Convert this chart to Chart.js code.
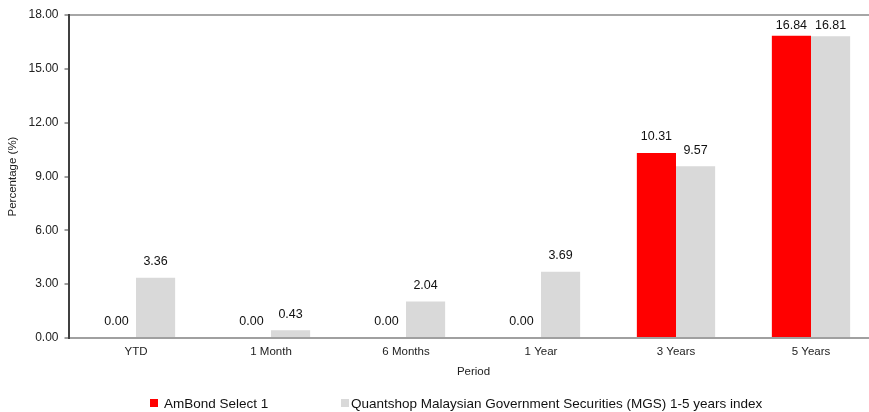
<!DOCTYPE html>
<html>
<head>
<meta charset="utf-8">
<script src="https://cdn.jsdelivr.net/npm/chart.js@4/dist/chart.umd.min.js"></script>
<style>
  body { margin: 0; overflow: hidden; background: #fff; font-family: "Liberation Sans", Arial, sans-serif; }
  #wrap { position: relative; width: 880px; height: 412px; }
  .leg { position: absolute; top: 396px; font-size: 13.5px; color: #111; white-space: nowrap; line-height: 16px; }
  .leg i { display: inline-block; width: 8px; height: 8px; margin-right: 6px; vertical-align: 1px; }
</style>
</head>
<body>
<div id="wrap">
  <canvas id="grafico"></canvas>
  <div class="leg" style="left:150px"><i style="background:#ff0000"></i>AmBond Select 1</div>
  <div class="leg" style="left:341px"><i style="background:#d9d9d9;margin-right:2px"></i>Quantshop Malaysian Government Securities (MGS) 1-5 years index</div>
</div>
<script>
const periodos = ['YTD', '1 Month', '6 Months', '1 Year', '3 Years', '5 Years'];
const fundo = [0.00, 0.00, 0.00, 0.00, 10.31, 16.84];
const indice = [3.36, 0.43, 2.04, 3.69, 9.57, 16.81];
const nomes = ['AmBond Select 1', 'Quantshop Malaysian Government Securities (MGS) 1-5 years index'];

// valores acima das barras (presos ao topo da area do grafico)
const rotulos = {
    id: 'rotulos',
    afterDatasetsDraw(chart) {
        const ctx = chart.ctx;
        ctx.save();
        ctx.font = '12.5px "Liberation Sans", Arial, sans-serif';
        ctx.fillStyle = '#111';
        ctx.textAlign = 'center';
        ctx.textBaseline = 'middle';
        chart.data.datasets.forEach((ds, i) => {
            chart.getDatasetMeta(i).data.forEach((bar, j) => {
                const y = Math.max(bar.y - 16, chart.chartArea.top + 11);
                ctx.fillText(ds.data[j].toFixed(2), bar.x, y);
            });
        });
        ctx.restore();
    }
};

const fonte = { family: '"Liberation Sans", Arial, sans-serif', size: 11.5 };

new Chart(document.getElementById('grafico'), {
    type: 'bar',
    data: {
        labels: periodos,
        datasets: [
            { label: nomes[0], data: fundo, backgroundColor: '#ff0000' },
            { label: nomes[1], data: indice, backgroundColor: '#d9d9d9' }
        ]
    },
    options: {
        responsive: true,
        maintainAspectRatio: false,
        animation: false,
        categoryPercentage: 0.58,
        barPercentage: 1.0,
        layout: { padding: { top: 15, left: 5.5, right: 1.5, bottom: 33 } },
        plugins: { legend: { display: false }, tooltip: { enabled: false } },
        scales: {
            x: {
                grid: { display: false, drawTicks: false },
                border: { color: '#a0a0a0', width: 2 },
                ticks: { color: '#222', font: fonte, padding: 7 },
                title: { display: true, text: 'Period', color: '#222', font: fonte, padding: { top: 6, bottom: 0 } },
                afterFit: (s) => { s.height = 41; }
            },
            y: {
                min: 0,
                max: 18,
                ticks: { stepSize: 3, color: '#222', font: { family: fonte.family, size: 12 }, padding: 6,
                         callback: (v) => v.toFixed(2) },
                grid: {
                    color: (c) => c.tick && c.tick.value === 18 ? '#a6a6a6' : 'rgba(0,0,0,0)',
                    lineWidth: 2,
                    tickColor: '#404040',
                    tickLength: 4,
                    tickWidth: 1
                },
                border: { color: '#404040', width: 2 },
                title: { display: true, text: 'Percentage (%)', color: '#222', font: fonte, padding: 0 },
                afterFit: (s) => { s.width = 63; }
            }
        }
    },
    plugins: [rotulos]
});
</script>
</body>
</html>
